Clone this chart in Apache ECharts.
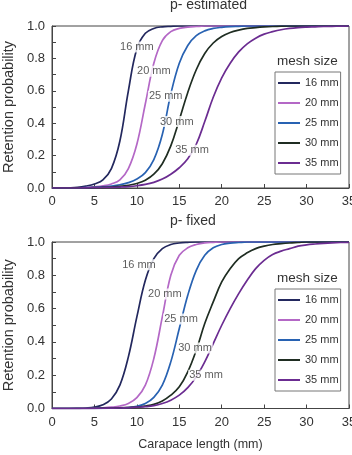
<!DOCTYPE html>
<html>
<head>
<meta charset="utf-8">
<script src="https://cdn.jsdelivr.net/npm/echarts@6/dist/echarts.min.js"></script>
<style>
  html, body { margin: 0; background: #fff; }
  #chart { width: 352px; height: 455px; }
</style>
</head>
<body>
<div id="chart"></div>
<script>
// carapace length (mm)
const lengths = [0,1,2,3,4,5,6,7,8,9,10,11,12,13,14,15,16,17,18,19,20,21,22,23,24,25,26,27,28,29,30,31,32,33,34,35]
const meshSizes = ['16 mm', '20 mm', '25 mm', '30 mm', '35 mm']
const meshColors = ['#23285e', '#b468c6', '#2862b2', '#1f2d22', '#6b2c91']

// p- estimated
const est16 = [0,0,0.001,0.004,0.012,0.025,0.05,0.12,0.29,0.6,0.86,0.955,0.985,0.995,0.998,1,1,1,1,1,1,1,1,1,1,1,1,1,1,1,1,1,1,1,1,1]
const est20 = [0,0,0,0.001,0.003,0.007,0.013,0.025,0.05,0.12,0.27,0.52,0.77,0.91,0.965,0.985,0.993,0.997,1,1,1,1,1,1,1,1,1,1,1,1,1,1,1,1,1,1]
const est25 = [0,0,0,0.001,0.002,0.004,0.007,0.012,0.02,0.033,0.055,0.095,0.175,0.33,0.58,0.77,0.88,0.94,0.97,0.985,0.992,0.996,0.998,1,1,1,1,1,1,1,1,1,1,1,1,1]
const est30 = [0,0,0,0.001,0.001,0.002,0.004,0.006,0.01,0.017,0.028,0.048,0.085,0.15,0.26,0.42,0.59,0.73,0.83,0.895,0.935,0.96,0.975,0.985,0.99,0.994,0.997,0.999,1,1,1,1,1,1,1,1]
const est35 = [0,0,0,0,0.001,0.002,0.003,0.004,0.006,0.009,0.014,0.022,0.035,0.055,0.085,0.125,0.18,0.27,0.41,0.56,0.68,0.77,0.84,0.89,0.925,0.95,0.965,0.977,0.985,0.99,0.993,0.995,0.997,0.998,0.999,1]

// p- fixed
const fix16 = [0,0,0,0.001,0.003,0.008,0.022,0.057,0.14,0.31,0.55,0.77,0.9,0.96,0.985,0.994,0.998,1,1,1,1,1,1,1,1,1,1,1,1,1,1,1,1,1,1,1]
const fix20 = [0,0,0,0,0.001,0.002,0.004,0.008,0.015,0.03,0.065,0.14,0.3,0.55,0.8,0.92,0.965,0.985,0.995,0.998,1,1,1,1,1,1,1,1,1,1,1,1,1,1,1,1]
const fix25 = [0,0,0,0,0,0.001,0.001,0.002,0.003,0.006,0.013,0.03,0.067,0.14,0.28,0.48,0.68,0.83,0.92,0.965,0.985,0.993,0.997,1,1,1,1,1,1,1,1,1,1,1,1,1]
const fix30 = [0,0,0,0,0,0.001,0.002,0.003,0.004,0.006,0.008,0.015,0.025,0.045,0.08,0.13,0.22,0.35,0.51,0.64,0.76,0.84,0.9,0.935,0.96,0.975,0.985,0.99,0.994,0.997,1,1,1,1,1,1]
const fix35 = [0,0,0,0,0,0.001,0.0015,0.002,0.003,0.005,0.008,0.011,0.017,0.03,0.05,0.08,0.125,0.19,0.28,0.39,0.5,0.6,0.69,0.77,0.84,0.89,0.925,0.945,0.96,0.975,0.983,0.988,0.992,0.995,0.997,0.998]

// where the curve labels sit (data units)
const estLabelX = [10.0, 12.0, 13.4, 14.7, 16.5]
const estLabelY = [0.87, 0.72, 0.566, 0.41, 0.233]
const fixLabelX = [10.25, 13.3, 15.2, 16.85, 18.15]
const fixLabelY = [0.864, 0.687, 0.537, 0.363, 0.2]

const font = 'Liberation Sans, Arial, sans-serif'
const textColor = '#333'

const chart = echarts.init(document.getElementById('chart'))

function xAxisFor(gridIndex, name) {
  return {
    type: 'value', gridIndex, min: 0, max: 35, interval: 5,
    name, nameLocation: 'middle', nameGap: 30,
    nameTextStyle: { fontFamily: font, fontSize: 12.5, color: textColor },
    axisLine: { lineStyle: { color: '#444' } },
    axisTick: { inside: true, length: 4, lineStyle: { color: '#444' } },
    axisLabel: { fontFamily: font, fontSize: 13, color: textColor, margin: 7 },
    splitLine: { show: false }
  }
}

function yAxisFor(gridIndex) {
  return {
    type: 'value', gridIndex, min: 0, max: 1, interval: 0.1,
    name: 'Retention probability', nameLocation: 'middle', nameGap: 36,
    nameTextStyle: { fontFamily: font, fontSize: 14.5, color: textColor },
    axisLine: { lineStyle: { color: '#444' } },
    axisTick: { inside: true, length: 4, lineStyle: { color: '#444' } },
    axisLabel: {
      fontFamily: font, fontSize: 13, color: textColor, margin: 7,
      formatter: v => (Math.round(v * 10) % 2 === 0 ? v.toFixed(1) : '')
    },
    splitLine: { show: false }
  }
}

function curveSeries(values, i, axisIndex) {
  return {
    name: meshSizes[i],
    type: 'line',
    xAxisIndex: axisIndex, yAxisIndex: axisIndex,
    data: lengths.map((x, k) => [x, values[k]]),
    showSymbol: false, smooth: 0.4,
    lineStyle: { color: meshColors[i], width: 1.7 },
    itemStyle: { color: meshColors[i] },
    z: 2
  }
}

function labelSeries(xs, ys, axisIndex) {
  return {
    type: 'scatter',
    xAxisIndex: axisIndex, yAxisIndex: axisIndex,
    symbolSize: 0,
    silent: true,
    z: 5,
    data: xs.map((x, i) => ({ value: [x, ys[i]], name: meshSizes[i] })),
    label: {
      show: true, position: 'inside', formatter: '{b}',
      fontFamily: font, fontSize: 11, color: textColor,
      backgroundColor: '#fff', padding: [0, 1]
    }
  }
}

function legendFor(top) {
  return {
    data: meshSizes, orient: 'vertical', left: 275, top,
    icon: 'rect', itemWidth: 22, itemHeight: 2, itemGap: 6,
    padding: [4, 2, 4, 3],
    borderColor: '#777', borderWidth: 1, backgroundColor: '#fff',
    textStyle: { fontFamily: font, fontSize: 11, color: textColor, lineHeight: 14 },
    selectedMode: false
  }
}

const estSets = [est16, est20, est25, est30, est35]
const fixSets = [fix16, fix20, fix25, fix30, fix35]

chart.setOption({
  animation: false,
  grid: [
    { left: 52, top: 26, width: 297, height: 162, outerBoundsMode: 'none', containLabel: false, show: true, borderColor: '#444', borderWidth: 1 },
    { left: 52, top: 242, width: 297, height: 166.5, outerBoundsMode: 'none', containLabel: false, show: true, borderColor: '#444', borderWidth: 1 }
  ],
  xAxis: [xAxisFor(0, ''), xAxisFor(1, 'Carapace length (mm)')],
  yAxis: [yAxisFor(0), yAxisFor(1)],
  legend: [legendFor(72), legendFor(289)],
  graphic: [
    { type: 'text', left: 170, top: -2, style: { text: 'p- estimated', font: '14px ' + font, fill: textColor } },
    { type: 'text', left: 170, top: 214, style: { text: 'p- fixed', font: '14px ' + font, fill: textColor } },
    { type: 'text', left: 277, top: 54, style: { text: 'mesh size', font: '13.5px ' + font, fill: textColor } },
    { type: 'text', left: 277, top: 271, style: { text: 'mesh size', font: '13.5px ' + font, fill: textColor } }
  ],
  series: [
    ...estSets.map((v, i) => curveSeries(v, i, 0)),
    ...fixSets.map((v, i) => curveSeries(v, i, 1)),
    labelSeries(estLabelX, estLabelY, 0),
    labelSeries(fixLabelX, fixLabelY, 1)
  ]
})

window.addEventListener('resize', () => chart.resize())
</script>
</body>
</html>
